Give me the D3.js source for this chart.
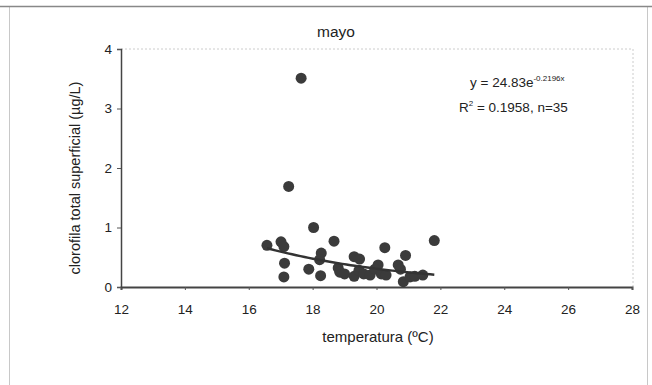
<!DOCTYPE html>
<html><head><meta charset="utf-8">
<script src="https://cdn.jsdelivr.net/npm/d3@7"></script>
<style>body{margin:0;background:#fff;} svg{display:block;font-family:Arial,"Liberation Sans",sans-serif;}</style>
</head><body>
<svg id="c" width="652" height="385"></svg>
<script>
const temperatura = [17.64,17.25,18.03,16.57,17.01,17.10,17.12,17.10,17.88,18.25,18.27,18.22,18.67,19.30,19.47,20.26,21.81,20.91,20.68,20.84,20.05,18.80,18.85,19.00,19.30,19.45,19.60,19.80,19.95,20.15,20.30,20.75,21.05,21.20,21.45];
const clorofila   = [3.51,1.69,1.00,0.70,0.76,0.68,0.40,0.17,0.30,0.19,0.57,0.46,0.77,0.51,0.47,0.66,0.78,0.53,0.37,0.09,0.37,0.32,0.25,0.22,0.18,0.28,0.22,0.20,0.30,0.22,0.20,0.30,0.17,0.18,0.20];
const xTicks = [12,14,16,18,20,22,24,26,28];
const yTicks = [0,1,2,3,4];
const fitA = 24.83, fitB = -0.2196;
const titleText = "mayo";
const xLabel = "temperatura (ºC)";
const yLabel = "clorofila total superficial (µg/L)";

const svg = d3.select("#c");
const L=121, R=632, T=49, B=287;
const x = d3.scaleLinear().domain([12,28]).range([L,R]);
const y = d3.scaleLinear().domain([0,4]).range([B,T]);

// outer frame
svg.append("rect").attr("x",9.5).attr("y",6.5).attr("width",638).attr("height",385).attr("fill","none").attr("stroke","#c8c8c8").attr("stroke-width",1);
svg.append("line").attr("x1",0).attr("x2",652).attr("y1",6.5).attr("y2",6.5).attr("stroke","#888").attr("stroke-width",1.5);

// plot area border (light dotted)
svg.append("path").attr("d",`M${L},${T}H${R+1}V${B}`).attr("fill","none").attr("stroke","#ccc").attr("stroke-dasharray","2,2");

// axes
const xa = svg.append("g").attr("transform",`translate(0,${B})`).call(d3.axisBottom(x).tickValues(xTicks).tickSize(3).tickPadding(14).tickFormat(d3.format("d")));
const ya = svg.append("g").attr("transform",`translate(${L},0)`).call(d3.axisLeft(y).tickValues(yTicks).tickSize(4).tickPadding(5).tickFormat(d3.format("d")));
[xa,ya].forEach(g=>{
  g.selectAll("text").attr("font-size",13.5).attr("fill","#222").attr("font-family","Arial,'Liberation Sans',sans-serif");
  g.selectAll("line").attr("stroke","#555");
});
xa.select(".domain").attr("stroke","#444").attr("stroke-width",2);
ya.select(".domain").attr("stroke","#444").attr("stroke-width",1.5);

// points
svg.append("g").selectAll("circle").data(temperatura.map((t,i)=>[t,clorofila[i]])).join("circle")
  .attr("cx",d=>x(d[0])).attr("cy",d=>y(d[1])).attr("r",5.5).attr("fill","#3b3b3b");

// trend line
const xmin = d3.min(temperatura), xmax = d3.max(temperatura);
const fitPts = d3.range(0,41).map(i=>{const t=xmin+(xmax-xmin)*i/40; return [t, fitA*Math.exp(fitB*t)];});
svg.append("path").attr("d",d3.line().x(d=>x(d[0])).y(d=>y(d[1]))(fitPts)).attr("fill","none").attr("stroke","#333").attr("stroke-width",2.5);

// titles
svg.append("text").attr("x",336).attr("y",37).attr("text-anchor","middle").attr("font-size",15.5).attr("fill","#222").text(titleText);
svg.append("text").attr("x",378).attr("y",342).attr("text-anchor","middle").attr("font-size",15).attr("fill","#222").text(xLabel);
svg.append("text").attr("transform","translate(80,178) rotate(-90)").attr("text-anchor","middle").attr("font-size",14.5).attr("fill","#222").text(yLabel);

// equation
const eq = svg.append("text").attr("x",470).attr("y",87).attr("font-size",13.5).attr("fill","#222");
eq.append("tspan").text("y = 24.83e");
eq.append("tspan").attr("dy",-6).attr("font-size",8).text("-0.2196x");
const r2 = svg.append("text").attr("x",459).attr("y",112).attr("font-size",13.5).attr("fill","#222");
r2.append("tspan").text("R");
r2.append("tspan").attr("dy",-6).attr("font-size",8).text("2");
r2.append("tspan").attr("dy",6).text(" = 0.1958, n=35");
</script>
</body></html>
